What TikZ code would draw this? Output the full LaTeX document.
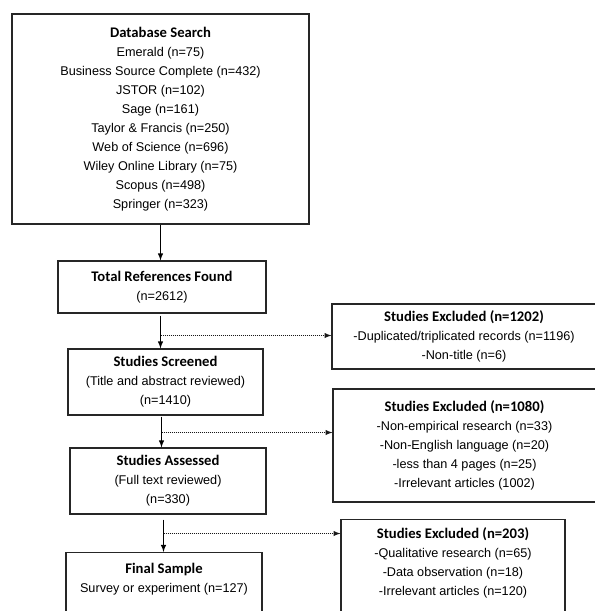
\documentclass[tikz,border=0pt]{standalone}
\usepackage{fontspec}
\setmainfont{Liberation Sans}
\newfontfamily\headfont{Carlito}
\usepackage{tikz}
\usetikzlibrary{arrows}
\usetikzlibrary{positioning,calc}
\newcommand{\boxhead}[1]{{\headfont\bfseries\fontsize{11pt}{14.25pt}\selectfont #1}}

\begin{document}
\begin{tikzpicture}[%
        x=0.75pt, y=-0.75pt,
        every node/.style={rectangle, inner sep=0pt, align=center,
          font=\fontsize{9.5pt}{14.25pt}\selectfont},
        stagebox/.style={draw=black!85, line width=0.8pt},
        flow/.style={->, line width=0.85pt, black},
        skip/.style={->, line width=0.8pt, black!90, dash pattern=on 0.75pt off 0.75pt},
        >=latex
      ]
      \useasboundingbox (0,0) rectangle (594,611);
      \node [] (db) [stagebox, minimum width=222.75pt, minimum height=157.5pt] at (160.5,119)
        {\boxhead{Database Search}\\Emerald (n=75)\\Business Source Complete (n=432)\\JSTOR (n=102)\\Sage (n=161)\\Taylor \& Francis (n=250)\\Web of Science (n=696)\\Wiley Online Library (n=75)\\Scopus (n=498)\\Springer (n=323)};
      \node [] (tot) [stagebox, minimum width=156pt, minimum height=39pt] at (162,287)
        {\boxhead{Total References Found}\\(n=2612)};
      \node [] (scr) [stagebox, minimum width=146.25pt, minimum height=49.5pt] at (165.5,382)
        {\boxhead{Studies Screened}\\(Title and abstract reviewed)\\(n=1410)};
      \node [] (ass) [stagebox, minimum width=147pt, minimum height=49.5pt] at (168,481)
        {\boxhead{Studies Assessed}\\(Full text reviewed)\\(n=330)};
      \node [] (fin) [stagebox, minimum width=147pt, minimum height=52.5pt, anchor=north] at (164,552)
        {\boxhead{Final Sample}\\Survey or experiment (n=127)\\\mbox{}};
      \node [] (ex1) [stagebox, minimum width=198pt, minimum height=48.75pt] at (464,336.5)
        {\boxhead{Studies Excluded (n=1202)}\\-Duplicated/triplicated records (n=1196)\\-Non-title (n=6)};
      \node [] (ex2) [stagebox, minimum width=197.25pt, minimum height=84.75pt] at (464.5,445.5)
        {\boxhead{Studies Excluded (n=1080)}\\-Non-empirical research (n=33)\\-Non-English language (n=20)\\-less than 4 pages (n=25)\\-Irrelevant articles (1002)};
      \node [] (ex3) [stagebox, minimum width=168pt, minimum height=78pt, anchor=north] at (453,519)
        {\boxhead{Studies Excluded (n=203)}\\-Qualitative research (n=65)\\-Data observation (n=18)\\-Irrelevant articles (n=120)\\\mbox{}};
      \coordinate (d1) at (160.5,335.5);
      \coordinate (d2) at (161.5,432.5);
      \coordinate (d3) at (163.5,533.5);
      \draw [flow] (db.south) -- (db.south |- tot.north);
      \draw [flow] (tot.south -| d1) ++(0,2) -- (scr.north -| d1);
      \draw [flow] (scr.south -| d2) ++(0,1) -- (ass.north -| d2);
      \draw [flow] (ass.south -| d3) ++(0,5) -- (fin.north -| d3);
      \draw [skip] (d1) -- (d1 -| ex1.west);
      \draw [skip] (d2) -- (d2 -| ex2.west);
      \draw [skip] (d3) -- (d3 -| ex3.west);
    \end{tikzpicture}
\end{document}
